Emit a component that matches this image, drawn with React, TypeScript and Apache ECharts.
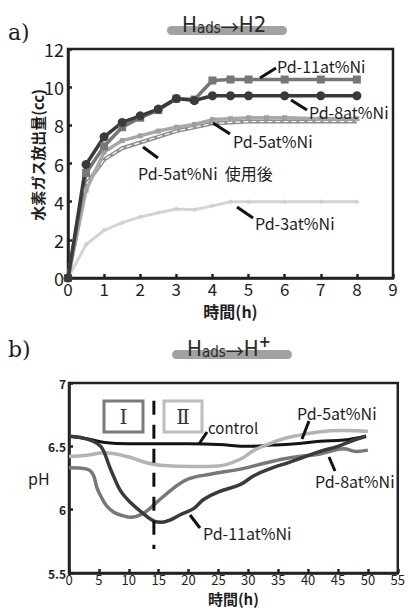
import React, { useEffect, useRef } from "react";
import * as echarts from "echarts";

// ---- a) hydrogen gas release (cc) vs time (h)
const hoursA = [0, 0.5, 1, 1.5, 2, 2.5, 3, 3.5, 4, 4.5, 5, 6, 7, 8];
const pd11Gas = [0, 5.5, 6.9, 7.9, 8.4, 8.8, 9.4, 9.35, 10.35, 10.4, 10.4, 10.4, 10.4, 10.4];
const pd8Gas = [0, 5.95, 7.4, 8.15, 8.5, 8.85, 9.4, 9.3, 9.55, 9.55, 9.55, 9.55, 9.55, 9.55];
const hoursPd5 = [0, 0.5, 1, 1.5, 2, 2.5, 3, 3.5, 4, 4.5, 5, 5.5, 6, 7, 8];
const pd5Gas = [0, 4.6, 6.6, 7.2, 7.45, 7.7, 7.9, 8.05, 8.3, 8.35, 8.4, 8.4, 8.4, 8.35, 8.35];
const pd5UsedGas = [0, 4.9, 6.2, 6.8, 7.1, 7.4, 7.7, 7.9, 8.1, 8.15, 8.2, 8.2, 8.2, 8.2];
const hoursPd3 = [0, 0.5, 1, 1.5, 2, 2.5, 3, 3.5, 4, 4.5, 5, 6, 7, 8];
const pd3Gas = [0, 1.75, 2.5, 2.9, 3.2, 3.42, 3.62, 3.58, 3.78, 4.0, 4.0, 4.0, 4.0, 4.0];

// ---- b) pH vs time (h)
const phControl = [[0, 6.58], [3, 6.56], [6, 6.53], [10, 6.52], [15, 6.52], [20, 6.52], [25, 6.515], [30, 6.5], [34, 6.51], [38, 6.52], [42, 6.54], [46, 6.55], [49.7, 6.58]];
const phPd5 = [[0, 6.42], [3, 6.43], [6, 6.45], [9.7, 6.42], [13, 6.37], [15.3, 6.35], [20.8, 6.34], [25, 6.345], [28.7, 6.4], [31, 6.47], [34, 6.53], [36.6, 6.57], [42, 6.615], [46, 6.625], [50, 6.62]];
const phPd8 = [[0, 6.33], [3, 6.32], [4, 6.28], [4.7, 6.17], [5.5, 6.09], [6.3, 6.03], [7.5, 5.98], [8.5, 5.96], [10.2, 5.94], [12.4, 5.97], [14.7, 6.06], [17.5, 6.17], [19.8, 6.24], [23.6, 6.28], [28.7, 6.32], [33, 6.37], [37, 6.41], [42, 6.44], [46, 6.48], [48, 6.46], [50, 6.47]];
const phPd11 = [[0, 6.58], [2, 6.57], [4, 6.54], [5.3, 6.5], [6, 6.44], [6.7, 6.35], [7.4, 6.27], [8.6, 6.15], [10.2, 6.06], [12.4, 5.97], [14.2, 5.91], [15.5, 5.9], [17, 5.92], [18.6, 5.96], [20.9, 6.01], [22.5, 6.08], [25, 6.14], [28.7, 6.2], [31, 6.27], [34, 6.33], [36.6, 6.37], [39, 6.41], [42, 6.46], [45, 6.5], [47.7, 6.55], [49.7, 6.58]];
const phaseBoundary = [[14.2, 6.86], [14.2, 5.69]];

const SANS = "'Noto Sans CJK JP', 'Noto Sans', sans-serif";
const NARROW = "'Liberation Sans Narrow', 'DejaVu Sans Condensed', 'Noto Sans', sans-serif";
const INK = "#1e1e1e";

const zip = (xs: number[], ys: number[]) => ys.map((y, i) => [xs[i], y]);

function leader(x1: number, y1: number, x2: number, y2: number) {
  return { type: "line", shape: { x1, y1, x2, y2 }, style: { stroke: "#111", lineWidth: 3 }, z: 100 };
}
function label(text: string, x: number, y: number, size = 16) {
  return { type: "text", x, y, style: { text, fill: INK, font: `${size}px ${SANS}`, textVerticalAlign: "middle" }, z: 100 };
}
function title(x: number, y: number, sub: boolean) {
  return {
    type: "group",
    children: [
      { type: "rect", shape: { x, y: y + 2, width: 120, height: 9, r: 4.5 }, style: { fill: "#a2a2a2" } },
      {
        type: "text",
        x: x + 15,
        y: y + 11,
        style: {
          text: sub ? "{H|H}{s|ads}{a|→}{H|H}{n|2}" : "{H|H}{s|ads}{a|→}{H|H}{p|+}",
          fill: "#2a2a2a",
          textVerticalAlign: "bottom",
          rich: {
            H: { font: `22px ${NARROW}`, fill: "#2a2a2a", verticalAlign: "bottom" },
            s: { font: `15px ${NARROW}`, fill: "#2a2a2a", verticalAlign: "bottom" },
            a: { font: `18px ${SANS}`, fill: "#2a2a2a", verticalAlign: "bottom" },
            n: { font: `22px ${NARROW}`, fill: "#2a2a2a", verticalAlign: "bottom" },
            p: { font: `bold 16px ${NARROW}`, fill: "#2a2a2a", verticalAlign: "top", padding: [0, 0, 10, 0] },
          },
        },
      },
    ],
  };
}

export default function App() {
  const ref = useRef<HTMLDivElement>(null);
  useEffect(() => {
    if (!ref.current) return;
    const chart = echarts.init(ref.current, null, { renderer: "svg" });
    const axisCommon = {
      axisLine: { show: true, lineStyle: { color: "#222", width: 2.5 } },
      axisTick: { show: true, inside: true, length: 4, lineStyle: { color: "#222", width: 2.5 } },
      splitLine: { show: false },
    };
    chart.setOption({
      animation: false,
      backgroundColor: "#fff",
      grid: [
        { left: 68, right: 15, top: 49, bottom: 332, show: true, borderColor: "#222", borderWidth: 2.5, backgroundColor: "transparent" },
        { left: 69, right: 8, top: 383, bottom: 37, show: true, borderColor: "#222", borderWidth: 2.5, backgroundColor: "transparent" },
      ],
      xAxis: [
        {
          ...axisCommon, gridIndex: 0, type: "value", min: 0, max: 9, interval: 1,
          axisLabel: { color: INK, fontSize: 17, fontFamily: SANS, margin: 2 },
          name: "時間(h)", nameLocation: "middle", nameGap: 25,
          nameTextStyle: { color: INK, fontSize: 16, fontFamily: SANS, fontWeight: "bold" },
        },
        {
          ...axisCommon, gridIndex: 1, type: "value", min: 0, max: 55, interval: 5,
          axisLabel: { color: INK, fontSize: 13, fontFamily: SANS, margin: 0, lineHeight: 12 },
          name: "時間(h)", nameLocation: "middle", nameGap: 18,
          nameTextStyle: { color: INK, fontSize: 15, fontFamily: SANS, fontWeight: "bold", lineHeight: 15 },
        },
      ],
      yAxis: [
        {
          ...axisCommon, gridIndex: 0, type: "value", min: 0, max: 12, interval: 2,
          axisLabel: { color: INK, fontSize: 18, fontFamily: SANS, margin: 4 },
        },
        {
          ...axisCommon, gridIndex: 1, type: "value", min: 5.5, max: 7, interval: 0.5,
          axisLabel: { color: INK, fontSize: 12, fontFamily: SANS, margin: 3, fontWeight: "bold" },
        },
      ],
      series: [
        { name: "Pd-3at%Ni", type: "line", xAxisIndex: 0, yAxisIndex: 0, data: zip(hoursPd3, pd3Gas), symbol: "diamond", symbolSize: 5, lineStyle: { color: "#d4d4d4", width: 3 }, itemStyle: { color: "#cfcfcf" } },
        { name: "Pd-5at%Ni 使用後", type: "line", xAxisIndex: 0, yAxisIndex: 0, data: zip(hoursA, pd5UsedGas), symbol: "none", lineStyle: { color: "#8f8f8f", width: 4 } },
        { name: "Pd-5at%Ni 使用後 inner", type: "line", xAxisIndex: 0, yAxisIndex: 0, data: zip(hoursA, pd5UsedGas), symbol: "none", lineStyle: { color: "#ffffff", width: 1.2, type: [5, 3] } },
        { name: "Pd-5at%Ni", type: "line", xAxisIndex: 0, yAxisIndex: 0, data: zip(hoursPd5, pd5Gas), symbol: "rect", symbolSize: 5, lineStyle: { color: "#a8a8a8", width: 3.5 }, itemStyle: { color: "#a0a0a0" } },
        { name: "Pd-11at%Ni", type: "line", xAxisIndex: 0, yAxisIndex: 0, data: zip(hoursA, pd11Gas), symbol: "rect", symbolSize: 8, lineStyle: { color: "#767676", width: 3.5 }, itemStyle: { color: "#767676" } },
        { name: "Pd-8at%Ni", type: "line", xAxisIndex: 0, yAxisIndex: 0, data: zip(hoursA, pd8Gas), symbol: "circle", symbolSize: 9, lineStyle: { color: "#3a3a3a", width: 3.5 }, itemStyle: { color: "#3a3a3a" } },

        { name: "pH control", type: "line", xAxisIndex: 1, yAxisIndex: 1, data: phControl, smooth: 0.4, symbol: "none", lineStyle: { color: "#141414", width: 3 } },
        { name: "pH Pd-5at%Ni", type: "line", xAxisIndex: 1, yAxisIndex: 1, data: phPd5, smooth: 0.4, symbol: "none", lineStyle: { color: "#b4b4b4", width: 3.5 } },
        { name: "pH Pd-8at%Ni", type: "line", xAxisIndex: 1, yAxisIndex: 1, data: phPd8, smooth: 0.4, symbol: "none", lineStyle: { color: "#787878", width: 3.5 } },
        { name: "pH Pd-11at%Ni", type: "line", xAxisIndex: 1, yAxisIndex: 1, data: phPd11, smooth: 0.4, symbol: "none", lineStyle: { color: "#3a3a3a", width: 3.5 } },
        { name: "phase boundary", type: "line", xAxisIndex: 1, yAxisIndex: 1, data: phaseBoundary, symbol: "none", lineStyle: { color: "#111", width: 3, type: [14, 10] }, z: 5 },
      ],
      graphic: [
        { type: "text", x: 8, y: 32, style: { text: "a)", fill: INK, font: `22px 'DejaVu Serif', 'Liberation Serif', serif`, textVerticalAlign: "middle" } },
        { type: "text", x: 8, y: 349, style: { text: "b)", fill: INK, font: `22px 'DejaVu Serif', 'Liberation Serif', serif`, textVerticalAlign: "middle" } },
        title(167, 24, true),
        title(172, 348, false),
        {
          type: "text", x: 37, y: 155, rotation: Math.PI / 2,
          style: { text: "水素ガス放出量(cc)", fill: INK, font: `bold 15px ${SANS}`, textAlign: "center", textVerticalAlign: "middle" },
        },
        { type: "text", x: 28, y: 478, style: { text: "pH", fill: INK, font: `16px ${SANS}`, textVerticalAlign: "middle" } },

        label("Pd-11at%Ni", 277, 66),
        leader(260, 78, 276, 68),
        label("Pd-8at%Ni", 309, 112),
        leader(291, 100, 307, 110),
        label("Pd-5at%Ni", 233, 141),
        leader(213, 123, 230, 134),
        label("Pd-5at%Ni  使用後", 138, 173),
        leader(143, 147, 158, 158),
        label("Pd-3at%Ni", 255, 223),
        leader(237, 207, 253, 218),

        { type: "rect", shape: { x: 104, y: 401, width: 39, height: 31 }, style: { fill: "#fff", stroke: "#7a7a7a", lineWidth: 3 }, z: 50 },
        { type: "text", x: 123.5, y: 417, style: { text: "Ⅰ", fill: "#333", font: `20px 'DejaVu Serif', 'Liberation Serif', serif`, textAlign: "center", textVerticalAlign: "middle" }, z: 51 },
        { type: "rect", shape: { x: 164, y: 401, width: 38, height: 31 }, style: { fill: "#fff", stroke: "#bdbdbd", lineWidth: 3 }, z: 50 },
        { type: "text", x: 183, y: 417, style: { text: "Ⅱ", fill: "#333", font: `20px 'DejaVu Serif', 'Liberation Serif', serif`, textAlign: "center", textVerticalAlign: "middle" }, z: 51 },

        label("control", 208, 427, 15),
        leader(207, 432, 199, 444),
        label("Pd-5at%Ni", 297, 413),
        leader(309, 421, 302, 439),
        label("Pd-8at%Ni", 315, 481),
        leader(335, 471, 329, 457),
        label("Pd-11at%Ni", 203, 533),
        leader(200, 528, 190, 515),
      ],
    });
    return () => chart.dispose();
  }, []);
  return <div ref={ref} style={{ position: "absolute", left: 0, top: 0, width: 408, height: 610, background: "#fff" }} />;
}
